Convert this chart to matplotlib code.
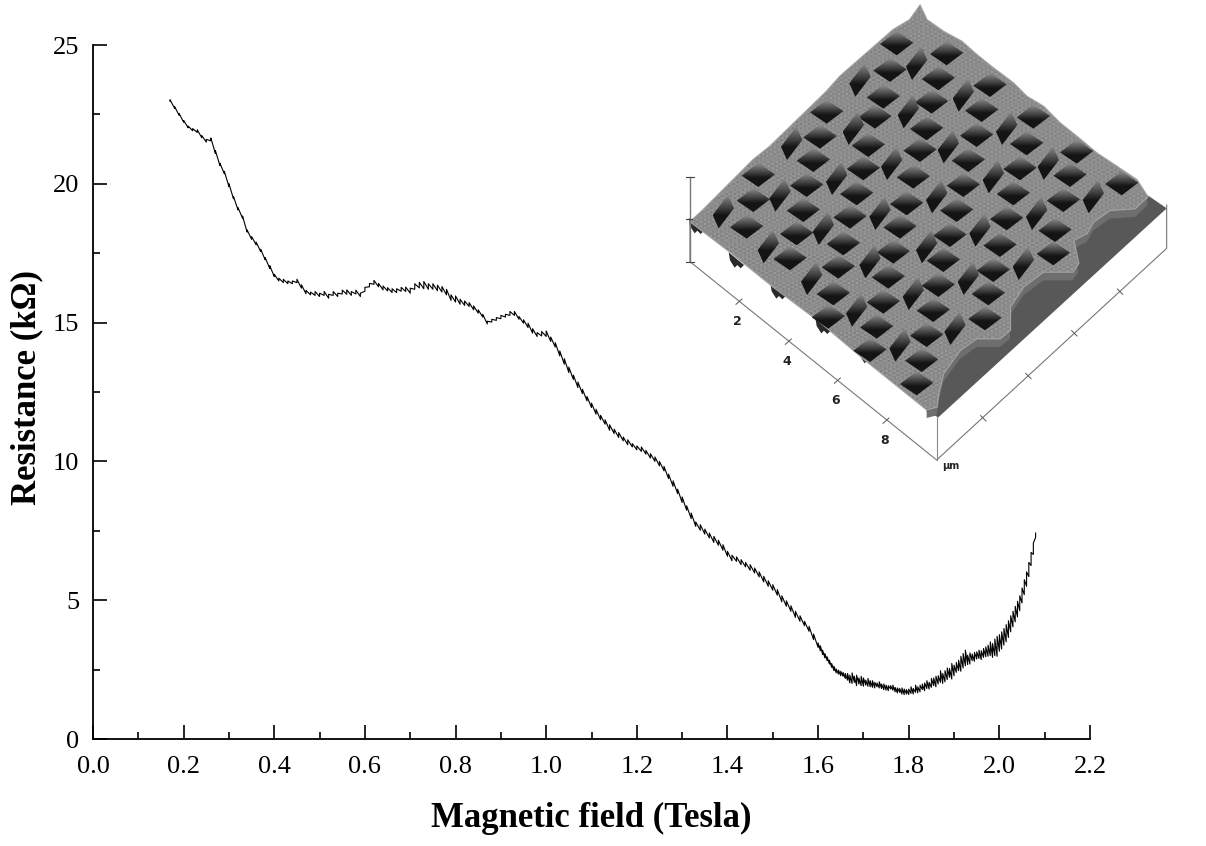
#!/usr/bin/env python3
import numpy as np
import matplotlib
matplotlib.use('Agg')
import matplotlib.pyplot as plt
from matplotlib.patches import Polygon

plt.rcParams['font.family'] = ['Liberation Serif', 'DejaVu Serif']

## Trace values: field in Tesla, lower and upper edge of the ripple in kOhm
field = [
    0.17, 0.18, 0.19, 0.20, 0.21, 0.22, 0.23, 0.24, 0.25, 0.26, 0.27, 0.28,
    0.29, 0.30, 0.31, 0.32, 0.33, 0.34, 0.35, 0.36, 0.37, 0.38, 0.39, 0.40,
    0.41, 0.42, 0.43, 0.44, 0.45, 0.46, 0.47, 0.48, 0.49, 0.50, 0.51, 0.52,
    0.53, 0.54, 0.55, 0.56, 0.57, 0.58, 0.59, 0.60, 0.61, 0.62, 0.63, 0.64,
    0.65, 0.66, 0.67, 0.68, 0.69, 0.70, 0.71, 0.72, 0.73, 0.74, 0.75, 0.76,
    0.77, 0.78, 0.79, 0.80, 0.81, 0.82, 0.83, 0.84, 0.85, 0.86, 0.87, 0.88,
    0.89, 0.90, 0.91, 0.92, 0.93, 0.94, 0.95, 0.96, 0.97, 0.98, 0.99, 1.00,
    1.01, 1.02, 1.03, 1.04, 1.05, 1.06, 1.07, 1.08, 1.09, 1.10, 1.11, 1.12,
    1.13, 1.14, 1.15, 1.16, 1.17, 1.18, 1.19, 1.20, 1.21, 1.22, 1.23, 1.24,
    1.25, 1.26, 1.27, 1.28, 1.29, 1.30, 1.31, 1.32, 1.33, 1.34, 1.35, 1.36,
    1.37, 1.38, 1.39, 1.40, 1.41, 1.42, 1.43, 1.44, 1.45, 1.46, 1.47, 1.48,
    1.49, 1.50, 1.51, 1.52, 1.53, 1.54, 1.55, 1.56, 1.57, 1.58, 1.59, 1.60,
    1.605, 1.61, 1.615, 1.62, 1.625, 1.63, 1.635, 1.64, 1.645, 1.65, 1.655,
    1.66, 1.665, 1.67, 1.675, 1.68, 1.685, 1.69, 1.695, 1.70, 1.705, 1.71,
    1.715, 1.72, 1.725, 1.73, 1.735, 1.74, 1.745, 1.75, 1.755, 1.76, 1.765,
    1.77, 1.775, 1.78, 1.785, 1.79, 1.795, 1.80, 1.805, 1.81, 1.815, 1.82,
    1.825, 1.83, 1.835, 1.84, 1.845, 1.85, 1.855, 1.86, 1.865, 1.87, 1.875,
    1.88, 1.885, 1.89, 1.895, 1.90, 1.905, 1.91, 1.915, 1.92, 1.925, 1.93,
    1.935, 1.94, 1.945, 1.95, 1.955, 1.96, 1.965, 1.97, 1.975, 1.98, 1.985,
    1.99, 1.995, 2.00, 2.005, 2.01, 2.015, 2.02, 2.025, 2.03, 2.035, 2.04,
    2.045, 2.05, 2.055, 2.06, 2.065, 2.07, 2.075, 2.08]
r_low = [
    22.97, 22.72, 22.47, 22.22, 22.02, 21.91, 21.85, 21.66, 21.5, 21.55, 21.1, 20.66,
    20.36, 19.9, 19.46, 19.06, 18.76, 18.26, 18.0, 17.8, 17.56, 17.26, 16.95, 16.66,
    16.5, 16.44, 16.4, 16.4, 16.44, 16.24, 16.04, 16.0, 15.98, 15.94, 15.98, 15.88,
    15.98, 15.94, 16.03, 16.02, 15.98, 16.03, 15.94, 16.13, 16.29, 16.38, 16.29, 16.18,
    16.14, 16.08, 16.08, 16.13, 16.12, 16.06, 16.2, 16.25, 16.22, 16.2, 16.2, 16.15,
    16.1, 16.0, 15.8, 15.74, 15.66, 15.62, 15.58, 15.46, 15.34, 15.2, 14.95, 15.02,
    15.08, 15.14, 15.2, 15.26, 15.26, 15.12, 14.98, 14.82, 14.62, 14.5, 14.52, 14.5,
    14.32, 14.12, 13.8, 13.5, 13.2, 12.95, 12.66, 12.44, 12.18, 11.94, 11.7, 11.5,
    11.34, 11.12, 11.0, 10.86, 10.74, 10.6, 10.52, 10.42, 10.36, 10.26, 10.12, 10.0,
    9.84, 9.66, 9.38, 9.1, 8.84, 8.52, 8.24, 7.94, 7.66, 7.52, 7.38, 7.24,
    7.08, 6.98, 6.8, 6.58, 6.42, 6.4, 6.28, 6.2, 6.08, 5.98, 5.84, 5.66,
    5.5, 5.36, 5.18, 4.94, 4.78, 4.6, 4.38, 4.24, 4.08, 3.88, 3.58, 3.3,
    3.18, 3.05, 2.92, 2.82, 2.7, 2.58, 2.46, 2.38, 2.34, 2.28, 2.26,
    2.18, 2.12, 2.02, 2.0, 2.04, 1.92, 1.98, 1.92, 1.9, 1.94, 1.9,
    1.88, 1.86, 1.84, 1.88, 1.84, 1.82, 1.78, 1.76, 1.74, 1.8, 1.76,
    1.7, 1.66, 1.68, 1.62, 1.6, 1.62, 1.6, 1.64, 1.62, 1.68, 1.66,
    1.7, 1.78, 1.74, 1.82, 1.8, 1.86, 1.92, 1.88, 1.98, 2.04, 2.0,
    2.06, 2.14, 2.22, 2.16, 2.28, 2.4, 2.46, 2.44, 2.56, 2.64, 2.68,
    2.7, 2.82, 2.8, 2.88, 2.9, 2.86, 2.94, 2.96, 2.98, 3.0, 2.94,
    3.0, 2.98, 3.16, 3.24, 3.38, 3.5, 3.66, 3.86, 4.04, 4.22, 4.4,
    4.62, 4.9, 5.2, 5.5, 5.85, 6.25, 6.65, 7.26]
r_high = [
    23.03, 22.78, 22.53, 22.28, 22.08, 21.99, 21.95, 21.74, 21.6, 21.65, 21.2, 20.74,
    20.44, 20.0, 19.54, 19.14, 18.84, 18.34, 18.1, 17.9, 17.64, 17.34, 17.05, 16.74,
    16.6, 16.56, 16.5, 16.5, 16.56, 16.36, 16.16, 16.1, 16.12, 16.06, 16.12, 16.02,
    16.12, 16.06, 16.17, 16.18, 16.12, 16.17, 16.06, 16.27, 16.41, 16.52, 16.41, 16.32,
    16.26, 16.22, 16.22, 16.27, 16.28, 16.24, 16.4, 16.45, 16.48, 16.4, 16.4, 16.35,
    16.3, 16.2, 16.0, 15.96, 15.84, 15.78, 15.72, 15.6, 15.46, 15.3, 15.05, 15.12,
    15.18, 15.26, 15.3, 15.4, 15.4, 15.22, 15.1, 14.98, 14.78, 14.64, 14.68, 14.7,
    14.48, 14.28, 13.98, 13.7, 13.4, 13.11, 12.86, 12.6, 12.34, 12.1, 11.88, 11.66,
    11.5, 11.32, 11.16, 11.04, 10.88, 10.78, 10.64, 10.56, 10.52, 10.4, 10.28, 10.16,
    10.0, 9.82, 9.54, 9.3, 9.0, 8.72, 8.4, 8.14, 7.82, 7.72, 7.56, 7.42,
    7.3, 7.16, 7.0, 6.76, 6.62, 6.56, 6.46, 6.36, 6.28, 6.16, 6.02, 5.86,
    5.7, 5.56, 5.38, 5.16, 4.98, 4.8, 4.6, 4.44, 4.24, 4.06, 3.78, 3.46,
    3.36, 3.2, 3.08, 2.96, 2.84, 2.72, 2.62, 2.52, 2.48, 2.44, 2.4,
    2.36, 2.36, 2.3, 2.38, 2.26, 2.3, 2.2, 2.26, 2.2, 2.12, 2.18,
    2.1, 2.1, 2.04, 2.02, 2.06, 1.98, 1.98, 1.94, 1.92, 1.92, 1.94,
    1.86, 1.84, 1.82, 1.84, 1.8, 1.78, 1.8, 1.88, 1.82, 1.94, 1.88,
    1.94, 1.98, 2.02, 2.1, 2.04, 2.18, 2.2, 2.26, 2.28, 2.46, 2.36,
    2.46, 2.56, 2.54, 2.72, 2.66, 2.76, 2.84, 2.98, 3.08, 3.2, 3.02,
    3.1, 3.06, 3.12, 3.14, 3.2, 3.18, 3.26, 3.32, 3.38, 3.5, 3.44,
    3.6, 3.7, 3.76, 3.86, 3.98, 4.12, 4.26, 4.44, 4.6, 4.78, 4.96,
    5.16, 5.44, 5.74, 6.02, 6.36, 6.72, 7.06, 7.42]

x_ticks = [0.0, 0.2, 0.4, 0.6, 0.8, 1.0, 1.2, 1.4, 1.6, 1.8, 2.0, 2.2]
x_minor = [0.1, 0.3, 0.5, 0.7, 0.9, 1.1, 1.3, 1.5, 1.7, 1.9, 2.1]
y_ticks = [0, 5, 10, 15, 20, 25]
y_minor = [2.5, 7.5, 12.5, 17.5, 22.5]

## AFM inset, hole centres
wide_x = [710, 860, 690, 835, 990, 670, 815, 965, 1120, 500, 645, 800, 950, 1100,
          1250, 480, 625, 780, 925, 1080, 1230, 1385, 460, 610, 760, 910, 1060, 1210,
          295, 440, 590, 740, 890, 1040, 280, 430, 570, 720, 870, 1020, 1185, 260,
          410, 550, 700, 850, 1000, 1180, 390, 535, 685, 835, 985, 520, 670, 820, 975,
          650, 800, 785, 630, 770, 505]
wide_y = [130, 160, 210, 235, 255, 290, 305, 330, 350, 335, 350, 385, 405, 430,
          455, 410, 435, 450, 480, 505, 525, 550, 480, 505, 530, 555, 580, 600,
          525, 555, 580, 610, 630, 655, 600, 630, 650, 680, 705, 735, 690, 680,
          700, 730, 755, 780, 810, 760, 775, 800, 830, 855, 880, 880, 905, 930, 955,
          980, 1005, 1080, 1050, 1150, 950]
tall_x = [770, 600, 910, 745, 580, 395, 1040, 865, 695, 530, 360, 190, 1165, 1000,
          830, 660, 490, 325, 1300, 1130, 960, 800, 630, 455, 1090, 925, 760, 590,
          720, 885]
tall_y = [190, 240, 285, 335, 385, 430, 385, 440, 490, 535, 585, 635, 490, 530,
          590, 640, 685, 740, 590, 640, 690, 740, 785, 835, 790, 835, 880, 930,
          1035, 985]
back_x = [780, 800, 850, 905, 950, 1000, 1060, 1100, 1150, 1200, 1250, 1310, 1370, 1430]
back_y = [18, 60, 95, 125, 165, 205, 250, 290, 320, 370, 410, 460, 500, 540]
scallop_x = [1462, 1425, 1350, 1300, 1280, 1240, 1255, 1238, 1150, 1090, 1050, 1050,
             1020, 950, 900, 850, 835, 830, 800]
scallop_y = [590, 625, 630, 665, 700, 720, 790, 815, 815, 860, 920, 990,
             1015, 1015, 1050, 1120, 1180, 1220, 1228]
front_x = [610, 480, 340, 210, 92, 130, 280, 330, 500, 540, 700, 750]
front_y = [1075, 965, 860, 755, 665, 630, 480, 440, 275, 230, 90, 60]
floor_x = [1462, 1520, 835, 800, 800, 1100]
floor_y = [585, 625, 1252, 1235, 1000, 700]
spike_x = [110, 230, 355, 490, 620]
spike_y = [672, 775, 868, 972, 1062]
box_x = [90, 90, 830, 1520, 1520]
box_y = [658, 785, 1380, 745, 615]
scale_ticks_y = [530, 658, 785]
depth_x = [237, 385, 532, 678]
depth_y = [905, 1025, 1142, 1262]
depth_labels = ['2', '4', '6', '8']
width_x = [970, 1105, 1243, 1380]
width_y = [1255, 1128, 1000, 875]

fig = plt.figure(figsize=(12.06, 8.46), dpi=100)
ax = fig.add_axes([93/1206, 107/846, 997/1206, 694/846])
ax.plot(np.column_stack((field, field)).ravel(),
        np.column_stack((r_low, r_high)).ravel(), color='black', lw=0.8)
ax.set_xlim(0, 2.2)
ax.set_ylim(0, 25)
ax.spines['top'].set_visible(False)
ax.spines['right'].set_visible(False)
for s in ('left', 'bottom'):
    ax.spines[s].set_linewidth(1.3)
ax.set_xticks(x_ticks)
ax.set_xticks(x_minor, minor=True)
ax.set_yticks(y_ticks)
ax.set_yticks(y_minor, minor=True)
ax.set_xticklabels(['%.1f' % t for t in x_ticks])
ax.tick_params(which='major', direction='in', length=10, width=1.2, labelsize=19)
ax.tick_params(which='minor', direction='in', length=5, width=1.2)
ax.tick_params(axis='x', which='major', pad=12)
ax.tick_params(axis='y', which='major', pad=10)
ax.set_xlabel('Magnetic field (Tesla)', fontsize=25, fontweight='bold', va='center')
ax.set_ylabel('Resistance (k\u03a9)', fontsize=25, fontweight='bold', va='center')
ax.xaxis.set_label_coords(0.4995, -0.115)
ax.yaxis.set_label_coords(-0.066, 0.507)

## Inset in micrograph coordinates (3x pixels of its own box)
inset = fig.add_axes([660/1206, (846-480)/846, 520/1206, 480/846])
inset.axis('off')
inset.patch.set_alpha(0)
inset.add_patch(Polygon(np.column_stack((floor_x, floor_y)), fc='#585858', ec='none'))

## scalloped wall down to the floor on the lower right
wall = np.vstack((np.column_stack((scallop_x, scallop_y)),
                  np.column_stack((scallop_x, np.array(scallop_y) + 26))[::-1]))
inset.add_patch(Polygon(wall, fc='#6e6e6e', ec='none'))
for sx, sy in zip(spike_x, spike_y):
    inset.add_patch(Polygon([[sx - 24, sy - 18], [sx + 22, sy + 20], [sx + 12, sy + 30],
                             [sx + 2, sy + 20], [sx - 6, sy + 28], [sx - 20, sy + 6]],
                            fc='#2a2a2a', ec='none'))

outline = np.column_stack((back_x + scallop_x + front_x, back_y + scallop_y + front_y))
top = Polygon(outline, fc='#8d8d8d', ec='#a4a4a4', lw=1.6, zorder=2)
inset.add_patch(top)

## fine grain on the surface
gy, gx = np.mgrid[0:1440:6, 0:1560:6]
grain = (0.55 + 0.035*np.sin(gx*0.37 + gy*0.71)*np.cos(gx*0.93 - gy*0.29)
         + 0.025*np.sin(gx*1.31 - gy*0.47))
im = inset.imshow(grain, cmap='gray', vmin=0, vmax=1, aspect='auto', zorder=2.5,
                  extent=(0, 1560, 1440, 0), interpolation='nearest')
im.set_clip_path(top)

gradient = np.clip(0.55 - 0.75*np.linspace(0, 1, 32), 0.08, 1).reshape(-1, 1)
def add_hole(cx, cy, half_w, half_h, skew_x, skew_y):
    corners = np.array([[cx - half_w, cy + skew_y], [cx + skew_x, cy - half_h],
                        [cx + half_w, cy - skew_y], [cx - skew_x, cy + half_h]])
    hole = inset.imshow(gradient, cmap='gray', vmin=0, vmax=1, aspect='auto', zorder=3,
                        extent=(cx - half_w, cx + half_w, cy + half_h, cy - half_h))
    clip = Polygon(corners, transform=inset.transData, fc='none', ec='none')
    inset.add_patch(clip)
    hole.set_clip_path(clip)

for cx, cy in zip(wide_x, wide_y):
    add_hole(cx, cy, 50, 36, 0, 2)
for cx, cy in zip(tall_x, tall_y):
    add_hole(cx, cy, 32, 50, 14, 10)
inset.set_xlim(0, 1560)
inset.set_ylim(1440, 0)

inset.plot(box_x, box_y, color='#777777', lw=0.8)
inset.plot([90, 90], [scale_ticks_y[0], scale_ticks_y[-1]], color='#777777', lw=1)
for ty in scale_ticks_y:
    inset.plot([78, 102], [ty, ty], color='#444444', lw=0.8)
inset.plot([830, 830], [1250, 1380], color='#888888', lw=0.8)
for tx, ty, lab in zip(depth_x, depth_y, depth_labels):
    inset.plot([tx - 9, tx + 9], [ty + 8, ty - 8], color='#555555', lw=0.7)
    inset.text(tx - 4, ty + 60, lab, fontsize=9, family='DejaVu Sans', fontweight='bold',
               color='#222222', ha='center', va='center')
for tx, ty in zip(width_x, width_y):
    inset.plot([tx - 8, tx + 8], [ty - 8, ty + 8], color='#555555', lw=0.7)
inset.text(872, 1398, '\u03bcm', fontsize=7, family='DejaVu Sans', fontweight='bold',
           color='#222222', ha='center', va='center')

plt.savefig('out.png', dpi=100)
